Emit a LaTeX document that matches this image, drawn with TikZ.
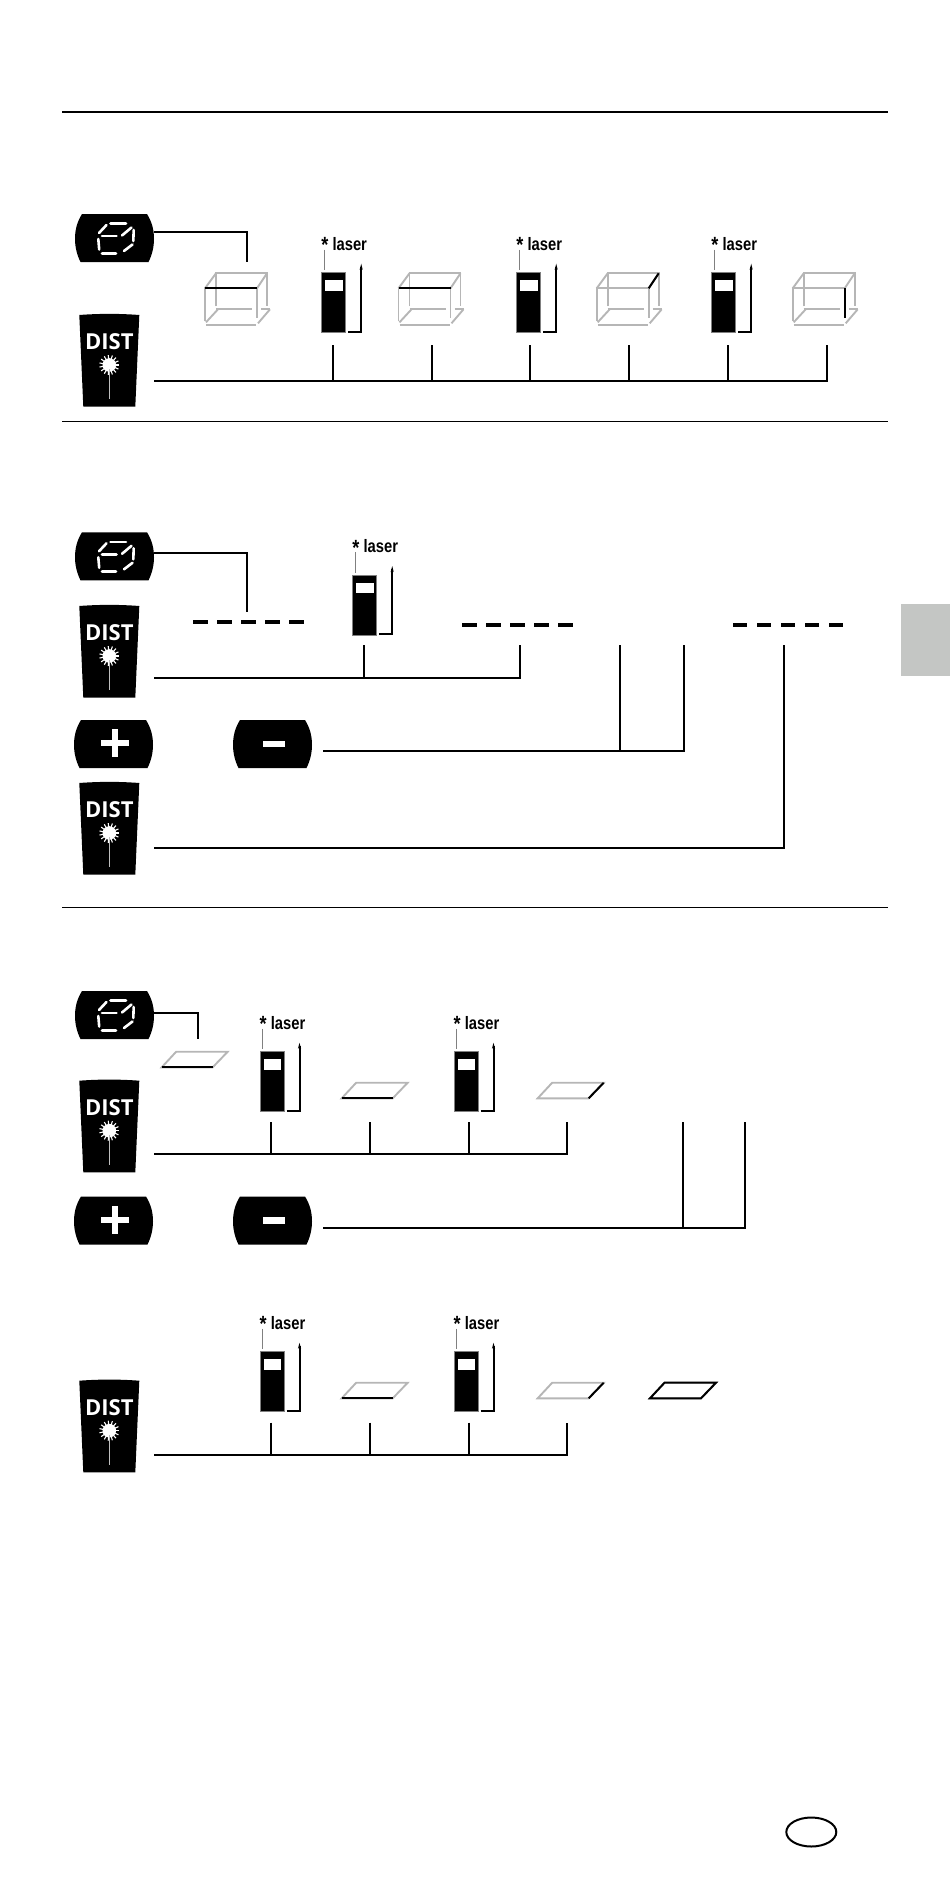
\documentclass[tikz,border=0pt]{standalone}
\usepackage{fontspec}
\usepackage{tikz}
\usetikzlibrary{shapes.geometric, arrows.meta}
\newfontfamily\keyfont{Open Sans}
\newfontfamily\laserfont[FakeStretch=0.82]{Liberation Sans}
\definecolor{edgegray}{HTML}{B6B6B6}
\definecolor{tabgray}{HTML}{C4C6C4}

\tikzset{
    seg/.style={white, line width=2.6pt, line cap=round},
    edge/.style={edgegray, line width=1.9pt},
    hot/.style={black, line width=2pt},
    keybody/.pic={
        \fill (7,0) .. controls (2,8) and (0,16) .. (0,25) .. controls (0,33) and (2,41) .. (5.5,48)
            -- (73.5,48) .. controls (77,41) and (79,33) .. (79,25) .. controls (79,16) and (77,8) .. (72,0) -- cycle;
    },
    modekey/.pic={
        \pic {keybody};
        \draw[seg] (35.5,9.5) -- (51,9.5);
        \draw[seg] (24,19) -- (31.5,11);
        \draw[seg] (27,22) -- (41.5,22);
        \draw[seg] (23.3,25) -- (24.2,35.5);
        \draw[seg] (27,39.3) -- (41,39.3);
        \draw[seg] (47,21.5) -- (56.5,13.5);
        \draw[seg] (58.7,16) -- (58.3,27);
        \draw[seg] (49,37) -- (57.5,30.5);
    },
    pluskey/.pic={
        \pic {keybody};
        \fill[white] (26.5,20) rectangle (54.5,26);
        \fill[white] (37.5,9) rectangle (43.5,37);
    },
    minuskey/.pic={
        \pic {keybody};
        \fill[white] (30,20.5) rectangle (52,27);
    },
    distkey/.pic={
        \fill (0,0) .. controls (20,-1.5) and (40,-1.5) .. (60,0) -- (56,91.7) -- (4,91.7) -- cycle;
        \node[white, font=\keyfont\bfseries\fontsize{22}{22}\selectfont, inner sep=0pt] (-label) at (30,26.5) {DIST};
        \fill[white] (30,50) circle (6.8);
        \foreach \a in {0,24,...,336}
            \draw[white, line width=1.1pt] (30,50) -- ++(\a:10);
        \draw[lightgray, line width=1.4pt] (30,54) -- (30,84);
    },
    device/.pic={
        \fill[draw=gray, line width=0.5pt] (0,0) rectangle (24,60);
        \fill[white] (3.5,7.5) rectangle (21,18);
        \node[anchor=west, inner sep=0pt, font=\laserfont\bfseries\fontsize{18}{18}\selectfont] (-label) at (-0.5,-27.5) {\raisebox{-2.5pt}{\fontsize{22}{22}\selectfont *} laser};
        \draw[gray, line width=1pt] (2.6,-23) -- (2.6,-2.5);
        \draw[hot, -{Stealth[length=6pt,width=3pt]}] (26.5,59.2) -- (39.5,59.2) -- (39.5,-9);
    },
    cube/.pic={
        \coordinate (-ftl) at (0,0);
        \coordinate (-ftr) at (52,0);
        \coordinate (-btr) at (62,-15);
        \coordinate (-fbr) at (52,30);
        \draw[edge] (0,33) -- (0,0) -- (52,0) -- (52,30);
        \draw[edge] (11,18) -- (11,-15) -- (62,-15) -- (62,18);
        \draw[edge] (0,0) -- (11,-15);
        \draw[edge] (52,0) -- (62,-15);
        \draw[edge] (1,37) -- (51,37);
        \draw[edge] (11,21) -- (47,21);
        \draw[edge] (56,21) -- (65,21);
        \draw[edge] (1,34) -- (13,21);
        \draw[edge] (53,35) -- (65,21);
    },
    panel/.pic={
        \coordinate (-bl) at (0,15.6);
        \coordinate (-br) at (51,15.6);
        \coordinate (-tr) at (66,0);
        \coordinate (-tl) at (14.5,0);
        \draw[edge] (0,15.6) -- (51,15.6) -- (66,0) -- (14.5,0) -- cycle;
    },
    dashrow/.pic={
        \foreach \x in {0,24,48,72,96}
            \fill (\x,-2) rectangle ++(14.3,4);
    }
}

\begin{document}
\begin{tikzpicture}[
        x=1pt, y=-1pt,
        rule/.style={line width=1.3pt},
        wire/.style={line width=2pt},
        tabbox/.style={rectangle, fill=tabgray, minimum width=49.3, minimum height=72.7, inner sep=0pt, anchor=north west},
        badge/.style={ellipse, draw, line width=2pt, minimum width=50, minimum height=29, inner sep=0pt}
    ]
        \useasboundingbox (0,0) rectangle (950,1881);

        % Rules and margin
        \coordinate (r1a) at (62,112);
        \coordinate (r1b) at (888,112);
        \coordinate (r2a) at (62,421.3);
        \coordinate (r2b) at (888,421.3);
        \coordinate (r3a) at (62,907.3);
        \coordinate (r3b) at (888,907.3);
        \draw[rule, line width=1.8pt] (r1a) -- (r1b);
        \draw[rule] (r2a) -- (r2b);
        \draw[rule] (r3a) -- (r3b);
        \node[tabbox] (tab) at (900.7,603.3) {};
        \node[badge] (badge) at (811.3,1832) {};

        % Box, four measurements
        \pic (mA) at (75,214) {modekey};
        \pic (dA) at (79.3,315) {distkey};
        \pic (cA) at (205,288.3) {cube};
        \pic (cB) at (398.5,288.3) {cube};
        \pic (cC) at (596.7,288.3) {cube};
        \pic (cD) at (792.7,288.3) {cube};
        \pic (uA) at (321.7,272.7) {device};
        \pic (uB) at (516.7,272.7) {device};
        \pic (uC) at (711.7,272.7) {device};
        \draw[hot] (cA-ftl) -- (cA-ftr);
        \draw[hot] (cB-ftl) -- (cB-ftr);
        \draw[hot] (cC-ftr) -- (cC-btr);
        \draw[hot] (cD-ftr) -- (cD-fbr);

        \coordinate (mAo) at (154,231.7);
        \coordinate (mAe) at (247,261.7);
        \coordinate (dAo) at (154,381);
        \foreach \n/\x in {1/333,2/432,3/530,4/629,5/727.7,6/827}
            \coordinate (tA\n) at (\x,345);
        \draw[wire] (mAo) -| (mAe);
        \draw[wire] (dAo) -| (tA6);
        \foreach \n in {1,...,5}
            \draw[wire] (tA\n) -- (tA\n |- dAo);

        % Known lengths, three dashed readouts
        \pic (mB) at (75,532.3) {modekey};
        \pic (dB) at (79.3,606) {distkey};
        \pic (pB) at (74,720) {pluskey};
        \pic (nB) at (233,720) {minuskey};
        \pic (dC) at (79.3,783) {distkey};
        \pic (uD) at (352.7,575) {device};
        \pic (qA) at (193.3,621.7) {dashrow};
        \pic (qB) at (462.3,624.7) {dashrow};
        \pic (qC) at (732.7,624.7) {dashrow};

        \coordinate (mBo) at (154,552.7);
        \coordinate (mBe) at (247,611.7);
        \coordinate (dBo) at (154,678);
        \coordinate (tB1) at (364,645);
        \coordinate (tB2) at (520,645);
        \coordinate (nBo) at (323.3,750.7);
        \coordinate (tB3) at (620,645);
        \coordinate (tB4) at (684,645);
        \coordinate (dCo) at (154,847.7);
        \coordinate (tB5) at (784,645);
        \draw[wire] (mBo) -| (mBe);
        \draw[wire] (dBo) -| (tB2);
        \draw[wire] (tB1) -- (tB1 |- dBo);
        \draw[wire] (nBo) -| (tB4);
        \draw[wire] (tB3) -- (tB3 |- nBo);
        \draw[wire] (dCo) -| (tB5);

        % Area, two measurements
        \pic (mC) at (75,991) {modekey};
        \pic (dD) at (79.3,1080.7) {distkey};
        \pic (pC) at (74,1196.5) {pluskey};
        \pic (nC) at (233,1196.5) {minuskey};
        \pic (uE) at (260,1051.7) {device};
        \pic (uF) at (454,1051.7) {device};
        \pic (aA) at (161.7,1051.7) {panel};
        \pic (aB) at (341.7,1082.7) {panel};
        \pic (aC) at (537.7,1082.7) {panel};
        \draw[hot] (aA-bl) -- (aA-br);
        \draw[hot] (aB-bl) -- (aB-br);
        \draw[hot] (aC-br) -- (aC-tr);

        \coordinate (mCo) at (154,1012.7);
        \coordinate (mCe) at (198,1039);
        \coordinate (dDo) at (154,1154);
        \foreach \n/\x in {1/270.7,2/370,3/469,4/567}
            \coordinate (tC\n) at (\x,1122.3);
        \coordinate (nCo) at (323.3,1228);
        \coordinate (tC5) at (682.5,1122.3);
        \coordinate (tC6) at (745,1122.3);
        \draw[wire] (mCo) -| (mCe);
        \draw[wire] (dDo) -| (tC4);
        \foreach \n in {1,2,3}
            \draw[wire] (tC\n) -- (tC\n |- dDo);
        \draw[wire] (nCo) -| (tC6);
        \draw[wire] (tC5) -- (tC5 |- nCo);

        % Area, result row
        \pic (dE) at (79.3,1380.7) {distkey};
        \pic (uG) at (260,1351.7) {device};
        \pic (uH) at (454,1351.7) {device};
        \pic (aD) at (341.7,1382.7) {panel};
        \pic (aE) at (537.7,1382.7) {panel};
        \pic (aF) at (650,1382.7) {panel};
        \draw[hot] (aD-bl) -- (aD-br);
        \draw[hot] (aE-br) -- (aE-tr);
        \draw[hot] (aF-bl) -- (aF-br) -- (aF-tr) -- (aF-tl) -- cycle;

        \coordinate (dEo) at (154,1455);
        \foreach \n/\x in {1/270.7,2/370,3/469,4/567}
            \coordinate (tD\n) at (\x,1422.5);
        \draw[wire] (dEo) -| (tD4);
        \foreach \n in {1,2,3}
            \draw[wire] (tD\n) -- (tD\n |- dEo);

    \end{tikzpicture}
\end{document}
